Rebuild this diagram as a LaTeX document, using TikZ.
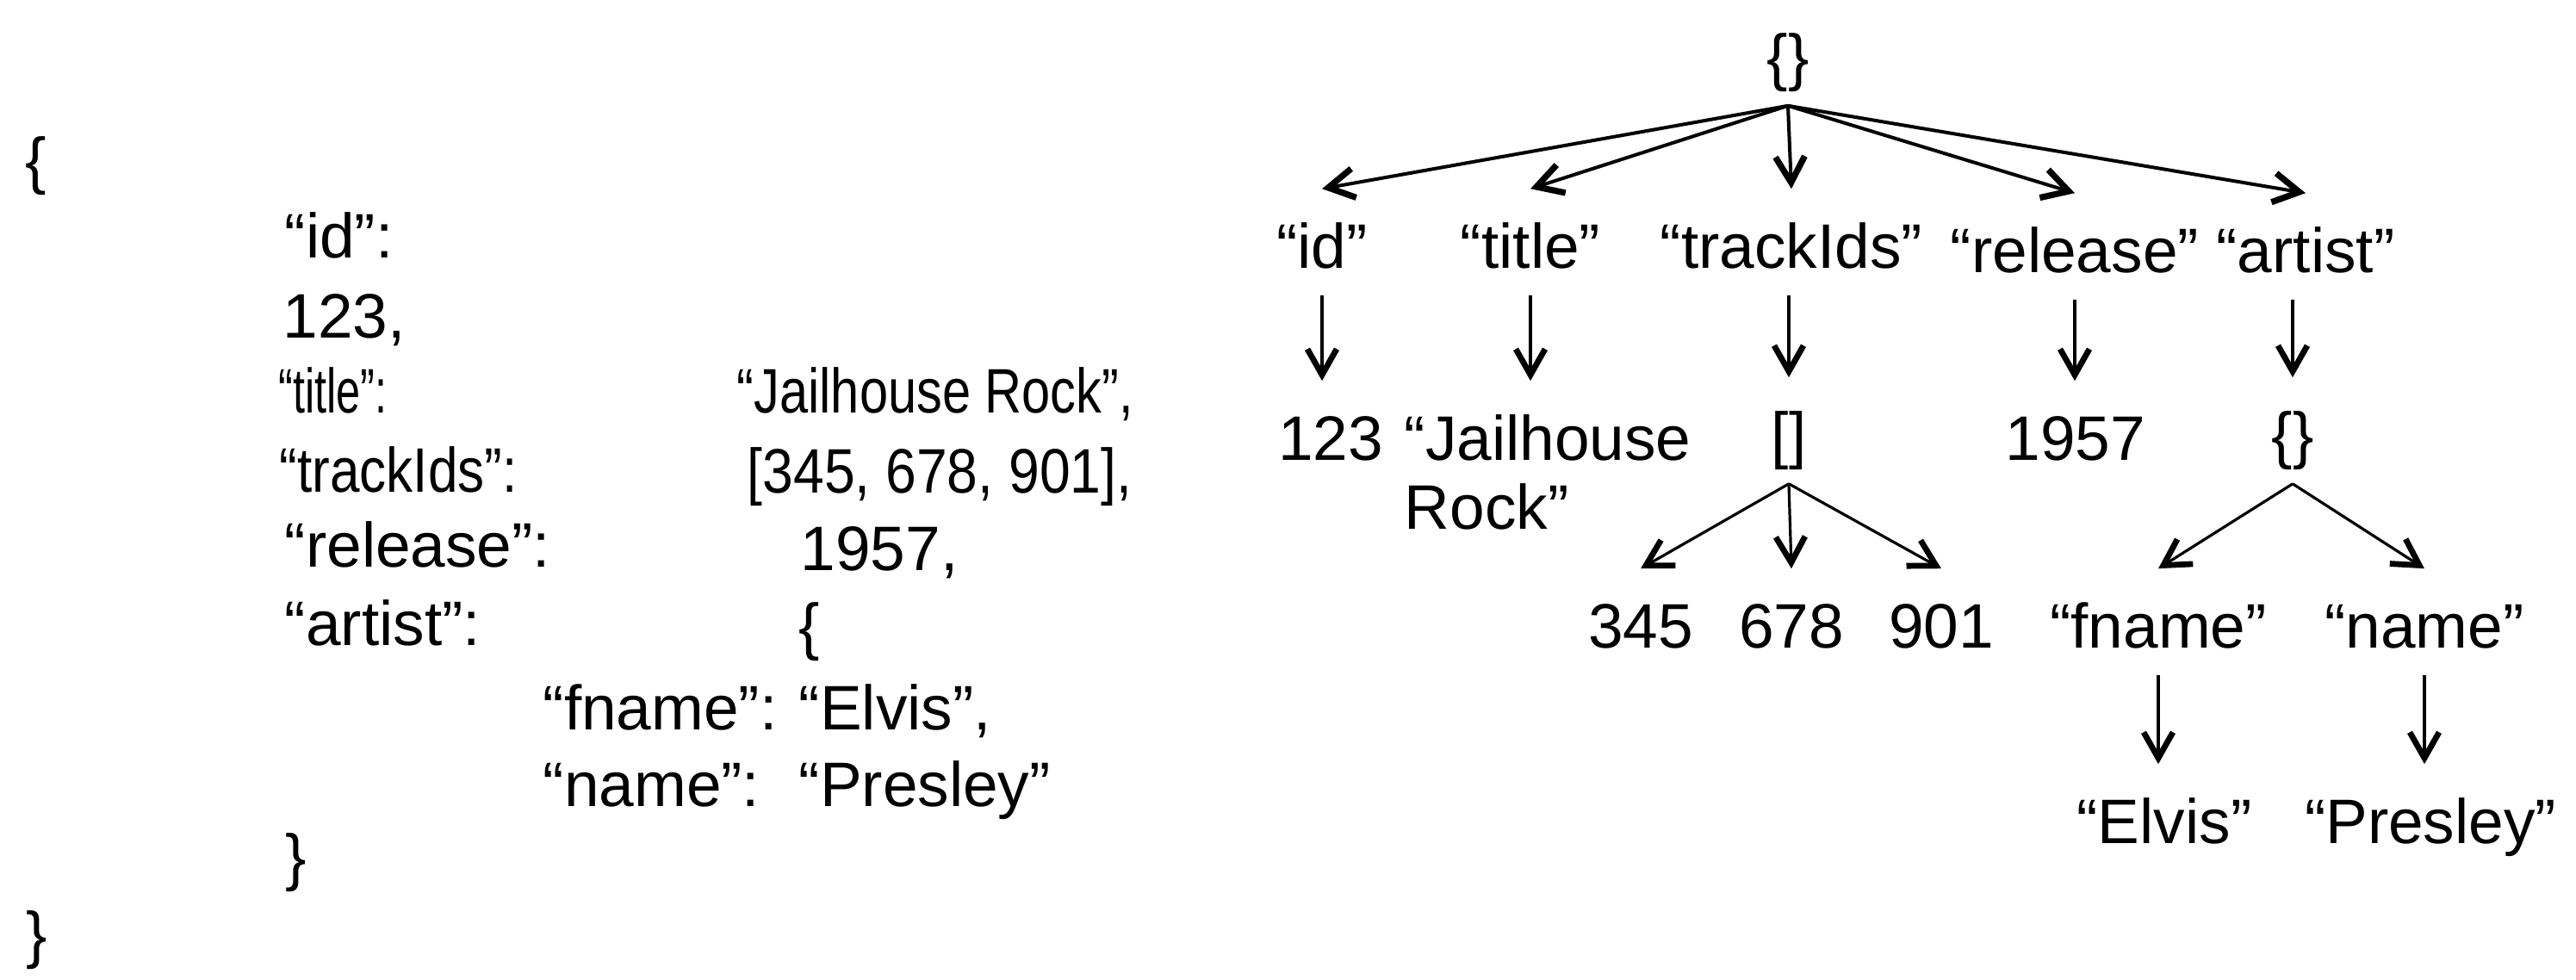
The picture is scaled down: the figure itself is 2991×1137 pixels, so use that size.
\documentclass[tikz,border=0pt]{standalone}
\usepackage{fontspec}
\setmainfont{Liberation Sans}
\usepackage{graphicx}
\usetikzlibrary{arrows.meta}
\newcommand\jsize{\fontsize{18.25pt}{20pt}\selectfont}
\begin{document}
\begin{tikzpicture}[x=0.25pt,y=-0.25pt,
  jt/.style={anchor=base west,inner sep=0pt,font=\jsize},
  tn/.style={anchor=base,inner sep=0pt,font=\jsize,text height=22.75pt,text depth=7.75pt},
  rootarrow/.style={line width=1pt,-{Straight Barb[length=7.5pt,width=8.5pt,line width=1.8pt]}},
  subarrow/.style={line width=0.8pt,-{Straight Barb[length=7.5pt,width=8.5pt,line width=1.7pt]}}]
\useasboundingbox (0,0) rectangle (2991,1137);
% ---------- left: JSON text ----------
\node[jt] (lopen) at (29,211) {\{};
\node[jt] (lid) at (330,299) {“id”:};
\node[jt] (l123) at (328,392) {123,};
\node[jt] (ltitle) at (323,479) {\scalebox{0.69}[1]{“title”:}};
\node[jt] (ljail) at (855,479) {\scalebox{0.816}[1]{“Jailhouse Rock”,}};
\node[jt] (ltracks) at (324,571) {\scalebox{0.85}[1]{“trackIds”:}};
\node[jt] (larr) at (867,572) {\scalebox{0.88}[1]{[345, 678, 901],}};
\node[jt] (lrel) at (330,658) {“release”:};
\node[jt] (l1957) at (929,662) {1957,};
\node[jt] (lartist) at (330,749) {“artist”:};
\node[jt] (lobj) at (927,752) {\{};
\node[jt] (lfname) at (630,847) {“fname”:};
\node[jt] (lelvis) at (927,847) {“Elvis”,};
\node[jt] (lname) at (630,936) {“name”:};
\node[jt] (lpresley) at (927,936) {“Presley”};
\node[jt] (lobjclose) at (331,1020) {\}};
\node[jt] (lclose) at (30,1110) {\}};
% ---------- right: tree ----------
\node[tn] (root) at (2076,91) {\{\}};
\node[tn] (id) at (1535,311) {“id”};
\node[tn] (title) at (1777,311) {“title”};
\node[tn] (tracks) at (2080,311) {“trackIds”};
\node[tn] (release) at (2409,316) {“release”};
\node[tn] (artist) at (2677,316) {“artist”};
\node[tn] (v123) at (1545,534) {123};
\node[tn,anchor=base west] (jail) at (1630,534) {\begin{tabular}[t]{@{}l@{}}“Jailhouse\\Rock”\end{tabular}};
\node[tn] (arr) at (2077,530) {[]};
\node[tn] (v1957) at (2410,534) {1957};
\node[tn] (obj) at (2662,530) {\{\}};
\node[tn] (v345) at (1905,752) {345};
\node[tn] (v678) at (2080,752) {678};
\node[tn] (v901) at (2254,752) {901};
\node[tn] (fname) at (2506,752) {“fname”};
\node[tn] (name) at (2815,752) {“name”};
\node[tn] (elvis) at (2513,979) {“Elvis”};
\node[tn] (presley) at (2822,979) {“Presley”};
% connectors
\foreach \c in {id,title,tracks,release,artist}
  \draw[rootarrow] (root.south) -- (\c.north);
\draw[subarrow] (id.south) -- (id.south |- v123.north);
\draw[subarrow] (title.south) -- (title.south |- jail.north);
\draw[subarrow] (tracks.south -| arr.north) -- (arr.north);
\draw[subarrow] (release.south) -- (release.south |- v1957.north);
\draw[subarrow] (artist.south -| obj.north) -- (obj.north);
\draw[subarrow] (arr.south) -- (v345.north);
\draw[subarrow] (arr.south) -- (v678.north);
\draw[subarrow] (arr.south) -- (v901.north);
\draw[subarrow] (obj.south) -- (fname.north);
\draw[subarrow] (obj.south) -- (name.north);
\draw[subarrow] (fname.south) -- (fname.south |- elvis.north);
\draw[subarrow] (name.south) -- (name.south |- presley.north);
\end{tikzpicture}
\end{document}
